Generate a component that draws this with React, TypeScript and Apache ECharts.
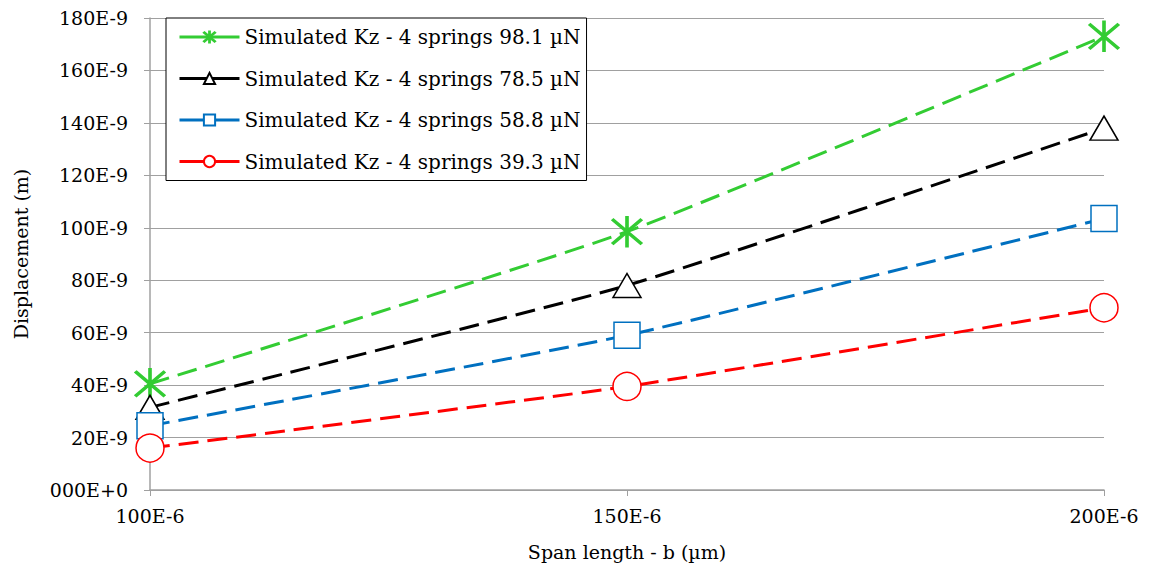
import React, { useEffect, useRef } from "react";
import * as echarts from "echarts";

const spanLengths = [100, 150, 200]; // ×1E-6
const seriesNames = [
  "Simulated Kz - 4 springs 98.1 µN",
  "Simulated Kz - 4 springs 78.5 µN",
  "Simulated Kz - 4 springs 58.8 µN",
  "Simulated Kz - 4 springs 39.3 µN",
];
const disp98 = [40.5, 98.5, 173]; // ×1E-9
const disp78 = [31.5, 78, 138];
const disp58 = [24.5, 59, 103.5];
const disp39 = [16, 39.5, 69.5];

const ASTERISK =
  "path://M47 0L53 0L53 100L47 100Z M12.1 7.9L92.1 87.9L87.9 92.1L7.9 12.1Z M87.9 7.9L92.1 12.1L12.1 92.1L7.9 87.9Z";

const FONT = "DejaVu Serif";

export default function App() {
  const ref = useRef<HTMLDivElement>(null);
  useEffect(() => {
    const chart = echarts.init(ref.current!, null, { renderer: "svg" });
    const mk = (
      name: string,
      vals: number[],
      color: string,
      symbol: string,
      symbolSize: number | number[],
      fill: string
    ) => ({
      name,
      type: "line",
      data: spanLengths.map((x, i) => [x, vals[i]]),
      smooth: 0.15,
      symbol,
      symbolSize,
      lineStyle: { color, width: 3, type: [20, 9] },
      itemStyle: { color: fill, borderColor: color, borderWidth: 1.5 },
      z: 3,
    });
    chart.setOption({
      animation: false,
      textStyle: { fontFamily: FONT },
      grid: { left: 150, right: 48, top: 18, bottom: 84 },
      legend: {
        show: true,
        orient: "vertical",
        left: 166,
        top: 18,
        padding: [9, 6, 9, 12],
        borderColor: "#000",
        borderWidth: 1,
        backgroundColor: "#fff",
        itemWidth: 60,
        itemHeight: 14,
        itemGap: 21.5,
        textStyle: { fontFamily: FONT, fontSize: 20, color: "#000", lineHeight: 20 },
        lineStyle: { type: "solid", width: 3 },
        data: seriesNames,
      },
      xAxis: {
        type: "value",
        min: 100,
        max: 200,
        interval: 50,
        name: "Span length - b (µm)",
        nameLocation: "middle",
        nameGap: 52,
        nameTextStyle: { fontFamily: FONT, fontSize: 19, color: "#000" },
        axisLine: { lineStyle: { color: "#a0a0a0", width: 1.5 } },
        axisTick: { show: true, length: 6, lineStyle: { color: "#a0a0a0" } },
        axisLabel: {
          fontFamily: FONT,
          fontSize: 19,
          color: "#000",
          margin: 16,
          formatter: (v: number) => `${v}E-6`,
        },
        splitLine: { show: false },
      },
      yAxis: {
        type: "value",
        min: 0,
        max: 180,
        interval: 20,
        name: "Displacement (m)",
        nameLocation: "middle",
        nameGap: 120,
        nameRotate: 90,
        nameTextStyle: { fontFamily: FONT, fontSize: 19, color: "#000" },
        axisLine: { show: true, lineStyle: { color: "#a0a0a0", width: 1.5 } },
        axisTick: { show: true, length: 6, lineStyle: { color: "#a0a0a0" } },
        axisLabel: {
          fontFamily: FONT,
          fontSize: 19,
          color: "#000",
          margin: 22,
          formatter: (v: number) => (v === 0 ? "000E+0" : `${v}E-9`),
        },
        splitLine: { show: true, lineStyle: { color: "#a0a0a0", width: 1.2 } },
      },
      series: [
        mk(seriesNames[0], disp98, "#33cc33", ASTERISK, 30, "#33cc33"),
        mk(seriesNames[1], disp78, "#000000", "triangle", [28, 24], "#ffffff"),
        mk(seriesNames[2], disp58, "#0070c0", "rect", 26, "#ffffff"),
        mk(seriesNames[3], disp39, "#ff0000", "circle", 28, "#ffffff"),
      ],
    });
    return () => chart.dispose();
  }, []);
  return <div ref={ref} style={{ width: 1152, height: 574, margin: -8 }} />;
}
